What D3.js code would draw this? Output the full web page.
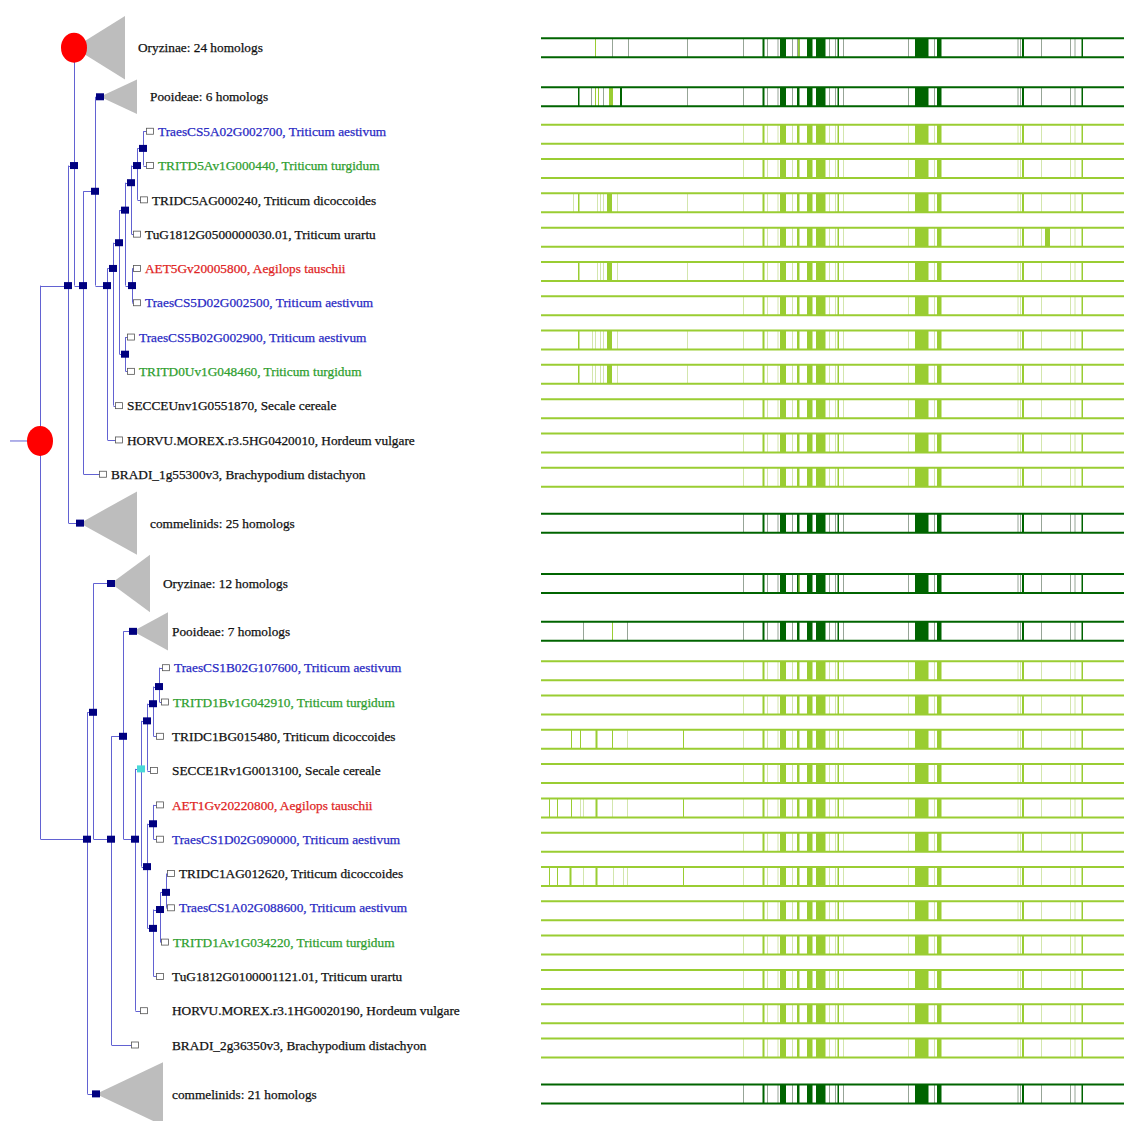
<!DOCTYPE html>
<html><head><meta charset="utf-8">
<script src="https://cdn.jsdelivr.net/npm/d3@7"></script>
<style>body{margin:0;background:#fff}</style>
</head><body>
<script>
// ---------------- DATA ----------------
const rowLabels = [
  "Oryzinae: 24 homologs",
  "Pooideae: 6 homologs",
  "TraesCS5A02G002700, Triticum aestivum",
  "TRITD5Av1G000440, Triticum turgidum",
  "TRIDC5AG000240, Triticum dicoccoides",
  "TuG1812G0500000030.01, Triticum urartu",
  "AET5Gv20005800, Aegilops tauschii",
  "TraesCS5D02G002500, Triticum aestivum",
  "TraesCS5B02G002900, Triticum aestivum",
  "TRITD0Uv1G048460, Triticum turgidum",
  "SECCEUnv1G0551870, Secale cereale",
  "HORVU.MOREX.r3.5HG0420010, Hordeum vulgare",
  "BRADI_1g55300v3, Brachypodium distachyon",
  "commelinids: 25 homologs",
  "Oryzinae: 12 homologs",
  "Pooideae: 7 homologs",
  "TraesCS1B02G107600, Triticum aestivum",
  "TRITD1Bv1G042910, Triticum turgidum",
  "TRIDC1BG015480, Triticum dicoccoides",
  "SECCE1Rv1G0013100, Secale cereale",
  "AET1Gv20220800, Aegilops tauschii",
  "TraesCS1D02G090000, Triticum aestivum",
  "TRIDC1AG012620, Triticum dicoccoides",
  "TraesCS1A02G088600, Triticum aestivum",
  "TRITD1Av1G034220, Triticum turgidum",
  "TuG1812G0100001121.01, Triticum urartu",
  "HORVU.MOREX.r3.1HG0020190, Hordeum vulgare",
  "BRADI_2g36350v3, Brachypodium distachyon",
  "commelinids: 21 homologs"
];
// homolog count of collapsed clades (0 = single gene)
const rowHomologs = [24,6,0,0,0,0,0,0,0,0,0,0,0,25,12,7,0,0,0,0,0,0,0,0,0,0,0,0,21];
// node type of each row's tree tip
const rowNodeTypes = ["dup","spec","leaf","leaf","leaf","leaf","leaf","leaf","leaf","leaf","leaf","leaf","leaf","spec","spec","spec",
  "leaf","leaf","leaf","leaf","leaf","leaf","leaf","leaf","leaf","leaf","leaf","leaf","spec"];
const rowParents = ["N1a","N1c","N1l","N1l","N1k","N1i","N1j","N1j","N1h","N1h","N1e","N1d","N1b","N1",
  "N2a","N2c","M1","M1","M2","M3","M4","M4","M6","M6","M7","M8","N2d","N2b","N2"];
// distance from root (branch length units)
const rowDepths = [0.34,0.60,1.10,1.10,1.04,0.97,0.97,0.97,0.91,0.91,0.79,0.79,0.63,0.40,
  0.71,0.93,1.26,1.25,1.20,1.14,1.20,1.20,1.31,1.31,1.25,1.20,1.04,0.95,0.56];
// depth spread inside collapsed clades
const cladeSpreads = [0.51,0.37,0,0,0,0,0,0,0,0,0,0,0,0.57,0.39,0.35,0,0,0,0,0,0,0,0,0,0,0,0,0.67];

// internal nodes
const nodeIds     = ["R","N1","N1a","N1b","N1c","N1d","N1e","N1f","N1g","N1h","N1i","N1j","N1k","N1l",
                     "N2","N2a","N2b","N2c","N2d","C","M3","M2","M1","M5","M4","M8","M7","M6"];
const nodeParents = [null,"R","N1","N1a","N1b","N1c","N1d","N1e","N1f","N1f","N1g","N1g","N1i","N1k",
                     "R","N2","N2a","N2b","N2c","N2d","C","M3","M2","C","M5","M5","M8","M7"];
const nodeDepths  = [0,0.28,0.34,0.43,0.55,0.67,0.73,0.79,0.85,0.85,0.91,0.92,0.97,1.03,
                     0.47,0.53,0.71,0.83,0.95,1.01,1.07,1.13,1.19,1.07,1.13,1.13,1.20,1.26];
// vertical placement expressed in rows (fractional row index)
const nodeRows    = [11.03,6.5,3.0,6.5,3.75,6.5,6.0,5.25,4.3,8.5,3.5,6.5,3.0,2.5,
                     21.0,17.3,21.0,18.0,21.0,18.95,17.55,17.05,16.55,21.8,20.55,23.6,23.05,22.55];
const nodeTypes   = ["dup","spec","spec","spec","spec","spec","spec","spec","spec","spec","spec","spec","spec","spec",
                     "spec","spec","spec","spec","spec","ambig","spec","spec","spec","spec","spec","spec","spec","spec"];

// alignment overview: [start, end, kind] in alignment columns
const alignLength = 1166;
const baseBlocks = [
  [404,406,"g"],[443,447,"f"],[452,454,"g"],[473,475,"g"],[478,490,"f"],[502,504,"g"],[512,517,"f"],
  [532,543,"f"],[550,569,"f"],[576,578,"g"],[588,590,"g"],[593,596,"f"],[604,606,"g"],[734,736,"g"],
  [748,775,"f"],[786,788,"g"],[792,801,"f"],[953,955,"g"],[958,960,"g"],[962,966,"f"],[1000,1002,"g"],
  [1058,1060,"g"],[1067,1069,"g"],[1081,1084,"f"]
];
const blocks5B = [[74,77,"f"],[102,104,"g"],[108,110,"g"],[118,120,"g"],[124,126,"g"],[132,142,"f"],[152,154,"g"],[292,294,"g"]];
const rowExtraBlocks = [
  [[108,110,"lg"],[142,144,"g"],[174,176,"g"],[292,294,"g"],[512,514,"g"],[514,517,"lg"]],
  [[74,77,"f"],[100,102,"g"],[108,110,"lg"],[114,116,"lg"],[124,126,"g"],[136,144,"lg"],[158,162,"f"],[292,294,"g"]],
  [],[],
  [[64,66,"g"],[74,77,"f"],[112,114,"g"],[118,120,"g"],[124,126,"g"],[132,142,"f"],[152,154,"g"],[292,294,"g"]],
  [[1008,1018,"f"]],
  [[74,77,"f"],[112,114,"g"],[118,120,"g"],[124,126,"g"],[132,142,"f"],[152,154,"g"],[292,294,"g"]],
  [],
  blocks5B, blocks5B,
  [],[],[],[],
  [[515,517,"lg"]],
  [[84,86,"g"],[142,144,"lg"],[172,174,"g"]],
  [],[],
  [[60,62,"f"],[78,80,"f"],[109,113,"f"],[142,144,"f"],[172,174,"g"],[284,286,"f"]],
  [],
  [[16,18,"f"],[32,34,"f"],[60,62,"f"],[78,80,"g"],[84,86,"g"],[109,113,"f"],[142,144,"g"],[172,174,"g"],[284,286,"f"]],
  [],
  [[16,18,"f"],[32,34,"f"],[57,61,"f"],[84,86,"g"],[109,113,"f"],[144,146,"g"],[164,166,"g"],[172,174,"g"],[284,286,"f"]],
  [],[],[],[],[],[]
];

// ---------------- DRAW ----------------
const W = 1124, H = 1121;
const svg = d3.select("body").append("svg").attr("width", W).attr("height", H)
  .style("font-family", "'Liberation Serif','Times New Roman',serif");

const rowH = 34.3;
const spanOf = n => n > 0 ? Math.min(0.35 + 0.11 * n, 1.85) : 1;
let acc = 0;
const rowCenters = rowHomologs.map(n => { const s = spanOf(n); const c = acc + s / 2; acc += s; return c; });
const yScale = d3.scaleLinear().domain([0, 1]).range([16, 16 + rowH]);
const leafPx = rowCenters.map(yScale);
const rowAt = r => {
  const i = Math.floor(r), f = r - i;
  if (f === 0 || i + 1 >= leafPx.length) return leafPx[i];
  return leafPx[i] + f * (leafPx[i + 1] - leafPx[i]);
};
const xTree = d3.scaleLinear().domain([0, 1]).range([40, 140]);
const xAlign = d3.scaleLinear().domain([0, alignLength]).range([541, 1124]);

// build node table
const nodes = new Map();
nodeIds.forEach((id, i) => nodes.set(id, {id, parent: nodeParents[i], x: xTree(nodeDepths[i]), y: rowAt(nodeRows[i]), type: nodeTypes[i], children: []}));
rowLabels.forEach((lab, i) => nodes.set("L" + i, {id: "L" + i, parent: rowParents[i], x: xTree(rowDepths[i]), y: leafPx[i], type: rowNodeTypes[i], row: i, children: []}));
nodes.forEach(n => { if (n.parent) nodes.get(n.parent).children.push(n); });
const topAncestor = n => { let c = n; while (c.parent && nodes.get(c.parent).parent) c = nodes.get(c.parent); return c.id; };

const lineColor = "#6262d2";
const gTree = svg.append("g");
// root stub
const root = nodes.get("R");
gTree.append("line").attr("x1", xTree(-0.3)).attr("x2", root.x).attr("y1", root.y).attr("y2", root.y)
  .attr("stroke", lineColor).attr("stroke-width", 1);
nodes.forEach(n => {
  if (n.children.length) {
    const ys = n.children.map(c => c.y);
    gTree.append("line").attr("x1", n.x + 0.5).attr("x2", n.x + 0.5)
      .attr("y1", d3.min(ys)).attr("y2", d3.max(ys)).attr("stroke", lineColor).attr("stroke-width", 1);
  }
  if (n.parent) {
    const p = nodes.get(n.parent);
    gTree.append("line").attr("x1", p.x + 0.5).attr("x2", n.x).attr("y1", Math.round(n.y) + 0.5).attr("y2", Math.round(n.y) + 0.5)
      .attr("stroke", lineColor).attr("stroke-width", 1);
  }
});

// collapsed clades (triangles)
const triColor = "#bdbdbd";
rowLabels.forEach((lab, i) => {
  if (!rowHomologs[i]) return;
  const n = nodes.get("L" + i);
  const right = xTree(rowDepths[i] + cladeSpreads[i]);
  const h = spanOf(rowHomologs[i]) * rowH;
  gTree.append("path").attr("d", `M${n.x},${n.y} L${right},${n.y - h / 2} L${right},${n.y + h / 2} Z`).attr("fill", triColor);
});

// node markers
nodes.forEach(n => {
  if (n.type === "dup") {
    gTree.append("ellipse").attr("cx", n.x).attr("cy", n.y).attr("rx", 13).attr("ry", 15).attr("fill", "#ff0000");
  } else if (n.type === "spec" || n.type === "ambig") {
    gTree.append("rect").attr("x", n.x - 4).attr("y", n.y - 3.5).attr("width", 8).attr("height", 7)
      .attr("fill", n.type === "ambig" ? "#48d8d8" : "#000080");
  } else {
    gTree.append("rect").attr("x", n.x - 3.5).attr("y", n.y - 3).attr("width", 7).attr("height", 6)
      .attr("fill", "#fff").attr("stroke", "#555").attr("stroke-width", 0.8);
  }
});

// labels
const speciesColor = lab => {
  if (lab.includes("Triticum aestivum")) return "#2a2ac4";
  if (lab.includes("Triticum turgidum")) return "#2e9e2e";
  if (lab.includes("Aegilops tauschii")) return "#e02424";
  return "#111";
};
const alignedX = 172;
rowLabels.forEach((lab, i) => {
  const n = nodes.get("L" + i);
  let lx;
  if (rowHomologs[i]) {
    lx = Math.min(xTree(rowDepths[i] + cladeSpreads[i]) + 13, alignedX);
  } else {
    lx = n.x + 8;
    if (topAncestor(n) === "N2") lx = Math.max(lx, alignedX);
  }
  const c = speciesColor(lab);
  svg.append("text").attr("x", lx).attr("y", n.y).attr("dy", "0.35em")
    .attr("font-size", 13.3).attr("fill", c).attr("stroke", c).attr("stroke-width", 0.25).text(lab);
});

// alignment bars
const palette = {
  dark:  {border: "#006400", f: "#006400", g: "#97a597", lg: "#9acd32"},
  light: {border: "#9acd32", f: "#9acd32", g: "#d3e6ad", lg: "#9acd32"}
};
const barH = 19;
const gBars = svg.append("g");
rowLabels.forEach((lab, i) => {
  const pal = rowHomologs[i] ? palette.dark : palette.light;
  const cy = leafPx[i] + (rowHomologs[i] ? 0 : 3);
  const top = cy - barH / 2, bot = cy + barH / 2;
  const g = gBars.append("g");
  const blocks = baseBlocks.concat(rowExtraBlocks[i]);
  blocks.forEach(b => {
    g.append("rect").attr("x", xAlign(b[0])).attr("width", Math.max(1, xAlign(b[1]) - xAlign(b[0])))
      .attr("y", top).attr("height", barH).attr("fill", pal[b[2]]);
  });
  [top, bot].forEach(y => g.append("line").attr("x1", xAlign(0)).attr("x2", xAlign(alignLength))
    .attr("y1", y).attr("y2", y).attr("stroke", pal.border).attr("stroke-width", 2));
});
</script>
</body></html>
